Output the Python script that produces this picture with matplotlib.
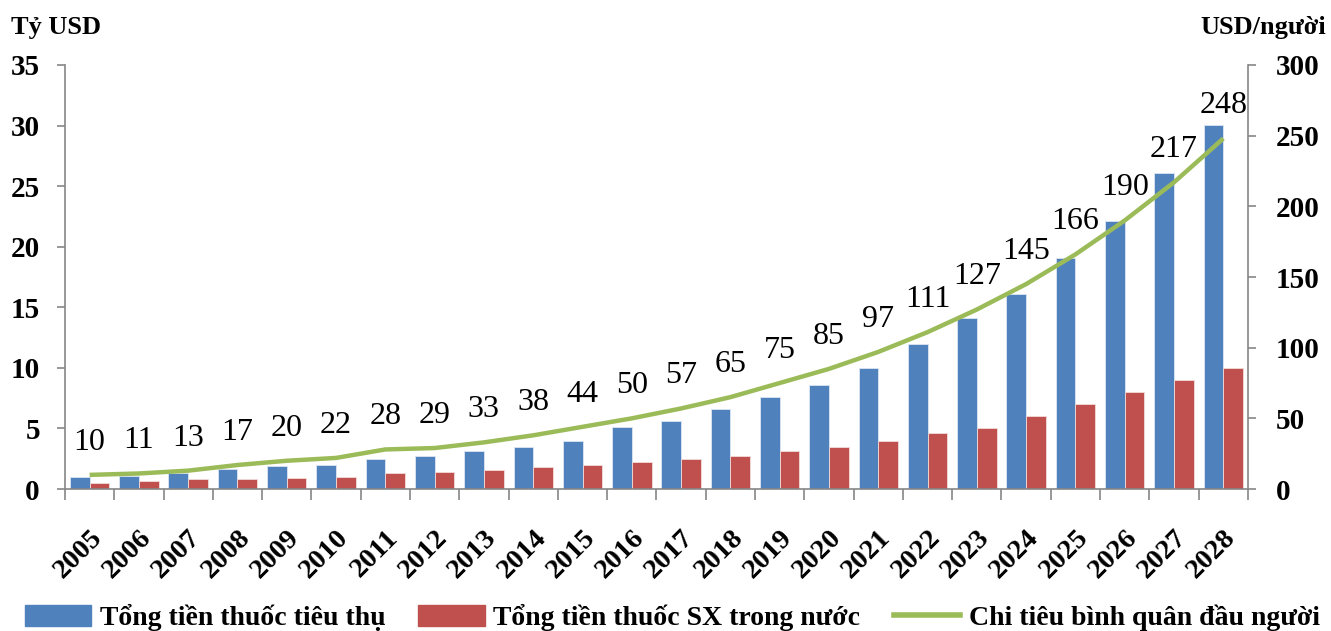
import numpy as np
import matplotlib
matplotlib.use("Agg")
import matplotlib.pyplot as plt
from matplotlib.patches import Patch
from matplotlib.lines import Line2D

years = list(range(2005, 2029))
tong_tieu_thu = [1.0, 1.1, 1.3, 1.65, 1.9, 2.0, 2.5, 2.75, 3.1, 3.45, 3.95, 5.1,
                 5.6, 6.6, 7.6, 8.55, 10.0, 12.0, 14.1, 16.1, 19.05, 22.1, 26.05, 30.05]
tong_sx_trong_nuoc = [0.5, 0.65, 0.8, 0.8, 0.9, 1.0, 1.3, 1.4, 1.6, 1.85, 1.95, 2.2,
                      2.45, 2.7, 3.1, 3.45, 3.95, 4.6, 5.05, 6.05, 7.05, 8.0, 9.0, 10.0]
binh_quan = [10, 11, 13, 17, 20, 22, 28, 29, 33, 38, 44, 50,
             57, 65, 75, 85, 97, 111, 127, 145, 166, 190, 217, 248]

BLUE = "#4F81BD"
RED = "#C0504D"
GREEN = "#9BBB59"
GRAY = "#868686"

plt.rcParams["font.family"] = ["Liberation Serif", "DejaVu Serif"]

fig = plt.figure(figsize=(13.31, 6.31), dpi=100)
ax = fig.add_axes([0.0488, 0.225, 0.8888, 0.672])
ax2 = ax.twinx()

x = np.arange(len(years))
w = 0.4
ax.bar(x - w / 2, tong_tieu_thu, w, color=BLUE, edgecolor="#DCE6F2", linewidth=0.6, zorder=2)
ax.bar(x + w / 2, tong_sx_trong_nuoc, w, color=RED, edgecolor="#F2DCDB", linewidth=0.6, zorder=2)
ax2.plot(x, binh_quan, color=GREEN, linewidth=3.2, solid_capstyle="butt")

for xi, v in zip(x, binh_quan):
    ax2.annotate(str(v), (xi, v), xytext=(0, 13), textcoords="offset points",
                 ha="center", va="bottom", fontsize=23)

ax.set_xlim(-0.5, len(years) - 0.5)
ax.set_ylim(0, 35)
ax2.set_ylim(0, 300)
ax.set_yticks(range(0, 36, 5))
ax2.set_yticks(range(0, 301, 50))

ax.set_xticks(x)
ax.set_xticklabels([str(y) for y in years], rotation=45, ha="right",
                   rotation_mode="anchor", fontsize=20.5, fontweight="bold")
ax.tick_params(axis="x", length=0, pad=26)
ax.set_xticks(np.arange(-0.5, len(years)), minor=True)
ax.tick_params(axis="x", which="minor", length=8, color=GRAY, width=1.2)

for a in (ax, ax2):
    for s in a.spines.values():
        s.set_visible(False)
ax.spines["left"].set_visible(True)
ax.spines["bottom"].set_visible(True)
ax2.spines["right"].set_visible(True)
for s in (ax.spines["left"], ax.spines["bottom"], ax2.spines["right"]):
    s.set_color(GRAY)
    s.set_linewidth(1.2)

ax.tick_params(axis="y", length=6, color=GRAY, width=1.2, labelsize=21, pad=12)
ax2.tick_params(axis="y", length=6, color=GRAY, width=1.2, labelsize=21, pad=14)
for lbl in ax.get_yticklabels() + ax2.get_yticklabels():
    lbl.set_fontweight("bold")

fig.text(0.008, 0.975, "Tỷ USD", fontsize=19, fontweight="bold", va="top", ha="left")
fig.text(0.996, 0.975, "USD/người", fontsize=19, fontweight="bold", va="top", ha="right")

handles = [Patch(color=BLUE), Patch(color=RED), Line2D([0], [0], color=GREEN, linewidth=4)]
labels = ["Tổng tiền thuốc tiêu thụ", "Tổng tiền thuốc SX trong nước",
          "Chi tiêu bình quân đầu người"]
fig.legend(handles, labels, loc="lower center", bbox_to_anchor=(0.505, -0.04), ncol=3,
           frameon=False, handlelength=2.4, handleheight=0.8, handletextpad=0.3,
           columnspacing=1.2, prop={"size": 20, "weight": "bold"})

fig.savefig("out.png", dpi=100)
